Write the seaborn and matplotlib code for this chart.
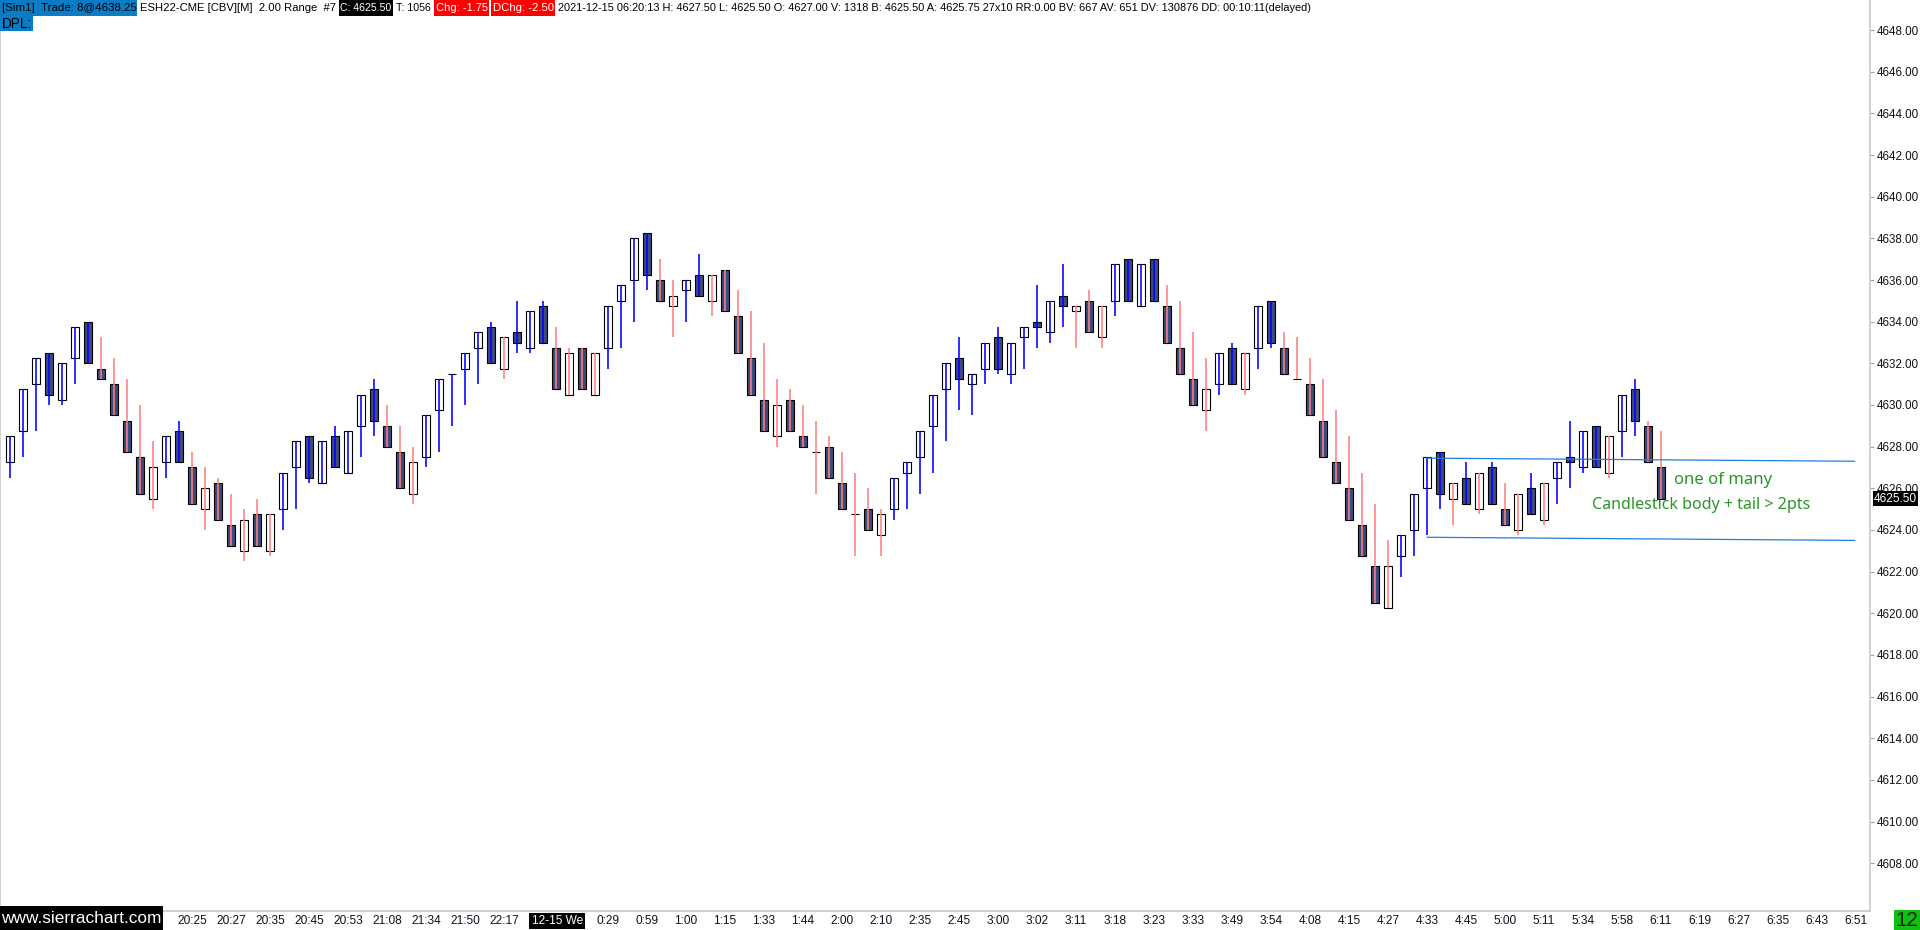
import pandas as pd
import matplotlib
matplotlib.use('Agg')
import matplotlib.pyplot as plt
from matplotlib.patches import Rectangle
import seaborn as sns

sns.set_theme(style='white')
plt.rcParams['font.family'] = ['Liberation Sans', 'DejaVu Sans']

# 2.00 range bars, ESH22
opens = [
    4627.25, 4628.75, 4631.00, 4632.50, 4630.25, 4632.25, 4634.00, 4631.75, 4631.00, 4629.25,
    4627.50, 4625.50, 4627.25, 4628.75, 4627.00, 4625.00, 4626.25, 4624.25, 4623.00, 4624.75,
    4623.00, 4625.00, 4627.00, 4628.50, 4626.25, 4628.50, 4626.75, 4629.00, 4630.75, 4629.00,
    4627.75, 4625.75, 4627.50, 4629.75, 4631.50, 4631.75, 4632.75, 4633.75, 4631.75, 4633.50,
    4632.75, 4634.75, 4632.75, 4630.50, 4632.75, 4630.50, 4632.75, 4635.00, 4636.00, 4638.25,
    4636.00, 4634.75, 4635.50, 4636.25, 4635.00, 4636.50, 4634.25, 4632.25, 4630.25, 4628.50,
    4630.25, 4628.50, 4627.75, 4628.00, 4626.25, 4624.75, 4625.00, 4623.75, 4625.00, 4626.75,
    4627.50, 4629.00, 4630.75, 4632.25, 4631.00, 4631.75, 4633.25, 4631.50, 4633.25, 4634.00,
    4633.50, 4635.25, 4634.50, 4635.00, 4633.25, 4635.00, 4637.00, 4634.75, 4637.00, 4634.75,
    4632.75, 4631.25, 4629.75, 4631.00, 4632.75, 4630.75, 4632.75, 4635.00, 4632.75, 4631.25,
    4631.00, 4629.25, 4627.25, 4626.00, 4624.25, 4622.25, 4620.25, 4622.75, 4624.00, 4626.00,
    4627.75, 4625.50, 4626.50, 4625.00, 4627.00, 4625.00, 4624.00, 4626.00, 4624.50, 4626.50,
    4627.50, 4627.00, 4629.00, 4626.75, 4628.75, 4630.75, 4629.00, 4627.00]
highs = [
    4628.50, 4630.75, 4632.25, 4632.50, 4632.00, 4633.75, 4634.00, 4633.25, 4632.25, 4631.25,
    4630.00, 4628.25, 4628.50, 4629.25, 4627.75, 4627.00, 4626.50, 4625.75, 4625.00, 4625.50,
    4624.75, 4626.75, 4628.25, 4628.50, 4628.25, 4629.00, 4628.75, 4630.50, 4631.25, 4630.00,
    4629.00, 4628.00, 4629.50, 4631.25, 4631.50, 4632.50, 4633.50, 4634.00, 4633.25, 4635.00,
    4634.50, 4635.00, 4633.75, 4632.75, 4632.75, 4632.50, 4634.75, 4635.75, 4638.00, 4638.25,
    4637.00, 4636.00, 4636.00, 4637.25, 4636.25, 4636.50, 4635.50, 4634.50, 4633.00, 4631.25,
    4630.75, 4630.00, 4629.25, 4628.50, 4627.75, 4626.75, 4626.00, 4625.00, 4626.50, 4627.25,
    4628.75, 4630.50, 4632.00, 4633.25, 4631.50, 4633.00, 4633.75, 4633.00, 4633.75, 4635.75,
    4635.00, 4636.75, 4634.75, 4635.50, 4634.75, 4636.75, 4637.00, 4636.75, 4637.00, 4635.75,
    4635.00, 4633.50, 4632.25, 4632.50, 4633.00, 4632.50, 4634.75, 4635.00, 4633.50, 4633.25,
    4632.25, 4631.25, 4629.75, 4628.50, 4626.75, 4625.25, 4623.50, 4623.75, 4625.75, 4627.50,
    4627.75, 4626.25, 4627.25, 4626.75, 4627.25, 4626.25, 4625.75, 4626.75, 4626.25, 4627.25,
    4629.25, 4628.75, 4629.00, 4628.50, 4630.50, 4631.25, 4629.25, 4628.75]
lows = [
    4626.50, 4627.50, 4628.75, 4630.00, 4630.00, 4631.00, 4632.00, 4631.25, 4629.50, 4627.75,
    4625.75, 4625.00, 4626.50, 4627.25, 4625.25, 4624.00, 4624.50, 4623.25, 4622.50, 4623.25,
    4622.75, 4624.00, 4625.00, 4626.25, 4626.25, 4627.00, 4626.75, 4627.50, 4628.50, 4628.00,
    4626.00, 4625.25, 4627.00, 4627.75, 4629.00, 4630.00, 4631.00, 4632.00, 4631.25, 4632.50,
    4632.50, 4633.00, 4630.75, 4630.50, 4630.75, 4630.50, 4631.75, 4632.75, 4634.00, 4635.50,
    4635.00, 4633.25, 4634.00, 4635.25, 4634.25, 4634.50, 4632.50, 4630.50, 4628.75, 4628.00,
    4628.75, 4628.00, 4625.75, 4626.50, 4625.00, 4622.75, 4624.00, 4622.75, 4624.50, 4625.00,
    4625.75, 4626.75, 4628.25, 4629.75, 4629.50, 4631.00, 4631.50, 4631.00, 4631.75, 4632.75,
    4633.00, 4633.75, 4632.75, 4633.50, 4632.75, 4634.25, 4635.00, 4634.75, 4635.00, 4633.00,
    4631.50, 4630.00, 4628.75, 4630.50, 4631.00, 4630.50, 4631.75, 4632.75, 4631.50, 4631.25,
    4629.50, 4627.50, 4626.25, 4624.50, 4622.75, 4620.50, 4620.25, 4621.75, 4622.75, 4623.75,
    4625.00, 4624.25, 4625.25, 4624.75, 4625.25, 4624.25, 4623.75, 4624.75, 4624.25, 4625.25,
    4626.00, 4626.75, 4627.00, 4626.50, 4627.50, 4628.50, 4627.25, 4625.50]
closes = [
    4628.50, 4630.75, 4632.25, 4630.50, 4632.00, 4633.75, 4632.00, 4631.25, 4629.50, 4627.75,
    4625.75, 4627.00, 4628.50, 4627.25, 4625.25, 4626.00, 4624.50, 4623.25, 4624.50, 4623.25,
    4624.75, 4626.75, 4628.25, 4626.50, 4628.25, 4627.00, 4628.75, 4630.50, 4629.25, 4628.00,
    4626.00, 4627.25, 4629.50, 4631.25, 4631.50, 4632.50, 4633.50, 4632.00, 4633.25, 4633.00,
    4634.50, 4633.00, 4630.75, 4632.50, 4630.75, 4632.50, 4634.75, 4635.75, 4638.00, 4636.25,
    4635.00, 4635.25, 4636.00, 4635.25, 4636.25, 4634.50, 4632.50, 4630.50, 4628.75, 4630.00,
    4628.75, 4628.00, 4627.75, 4626.50, 4625.00, 4624.75, 4624.00, 4624.75, 4626.50, 4627.25,
    4628.75, 4630.50, 4632.00, 4631.25, 4631.50, 4633.00, 4631.75, 4633.00, 4633.75, 4633.75,
    4635.00, 4634.75, 4634.75, 4633.50, 4634.75, 4636.75, 4635.00, 4636.75, 4635.00, 4633.00,
    4631.50, 4630.00, 4630.75, 4632.50, 4631.00, 4632.50, 4634.75, 4633.00, 4631.50, 4631.25,
    4629.50, 4627.50, 4626.25, 4624.50, 4622.75, 4620.50, 4622.25, 4623.75, 4625.75, 4627.50,
    4625.75, 4626.25, 4625.25, 4626.75, 4625.25, 4624.25, 4625.75, 4624.75, 4626.25, 4627.25,
    4627.25, 4628.75, 4627.00, 4628.50, 4630.50, 4629.25, 4627.25, 4625.50]
# bar direction (u = up bar / blue tail, d = down bar / red tail)
bar_dir = ('uuuuuuuddd' 'dduudddddd' 'duuuuuuuud' 'dduuuuuudu' 'uudddduuuu'
           'dduudddddd' 'dddddddduu' 'uuuuuuuuuu' 'uuddduuuud' 'ddduuduudd'
           'ddddddduuu' 'udududdudu' 'uuuduudd')

# time axis labels (bar number, text)
time_bars = [15, 18, 21, 24, 27, 30, 33, 36, 39,
             47, 50, 53, 56, 59, 62, 65, 68, 71, 74, 77, 80, 83, 86, 89, 92, 95, 98,
             101, 104, 107, 110, 113, 116, 119, 122, 125, 128,
             131, 134, 137, 140, 143]
time_labels = ['20:25', '20:27', '20:35', '20:45', '20:53', '21:08', '21:34', '21:50', '22:17',
               '0:29', '0:59', '1:00', '1:15', '1:33', '1:44', '2:00', '2:10', '2:35', '2:45',
               '3:00', '3:02', '3:11', '3:18', '3:23', '3:33', '3:49', '3:54',
               '4:08', '4:15', '4:27', '4:33', '4:45', '5:00', '5:11', '5:34', '5:58', '6:11',
               '6:19', '6:27', '6:35', '6:43', '6:51']
day_bar = 43.1
day_label = '12-15 We'

# user drawn range lines (bar number, price)
line_id = ['top', 'top', 'bottom', 'bottom']
line_bar = [110.0, 142.9, 110.0, 142.9]
line_price = [4627.45, 4627.30, 4623.65, 4623.50]

price_ticks = list(range(4608, 4650, 2))
last_price = 4625.50

df = pd.DataFrame({'open': opens, 'high': highs, 'low': lows, 'close': closes,
                   'dir': list(bar_dir)})
df['bar'] = range(1, len(df) + 1)
df['body_lo'] = df[['open', 'close']].min(axis=1)
df['body_h'] = (df['close'] - df['open']).abs()
df['fill'] = ['#3d4a7a' if c < o else 'white' for o, c in zip(df['open'], df['close'])]
df['tail'] = df['dir'].map({'u': '#0000ff', 'd': '#ff8080'})

W, H = 1920, 930
fig = plt.figure(figsize=(W / 100, H / 100), dpi=100)
ax = fig.add_axes([0, 19 / H, 1870 / W, 911 / H])
ax.set_facecolor('white')

ax.bar(df['bar'], df['body_h'], bottom=df['body_lo'], width=0.55,
       color=df['fill'], edgecolor='black', linewidth=0.8, zorder=2)
ax.vlines(df['bar'], df['low'], df['high'], colors=df['tail'], linewidth=1.15, zorder=3)

lines = pd.DataFrame({'line': line_id, 'bar': line_bar, 'price': line_price})
sns.lineplot(data=lines, x='bar', y='price', units='line', estimator=None,
             color='#1e80e8', linewidth=0.9, ax=ax, zorder=4, legend=False)

ax.set_xlim(1 - 10 / 13, 1 + 1860 / 13)
ax.set_ylim(4630 - 506 / 20.83, 4630 + 405 / 20.83)
ax.set_xlabel('')
ax.set_ylabel('')

ax.yaxis.tick_right()
ax.set_yticks(price_ticks)
ax.set_yticklabels([f'{p:.2f}' for p in price_ticks])
ax.tick_params(axis='y', which='both', right=True, length=3, width=0.8, color='#a0a0a0',
               pad=2, labelsize=8.4, labelcolor='#101018')
ax.set_xticks(time_bars)
ax.set_xticklabels(time_labels)
ax.tick_params(axis='x', bottom=True, length=0, pad=3, labelsize=8.6, labelcolor='#101020')

for side in ['left', 'right', 'bottom']:
    ax.spines[side].set_visible(True)
    ax.spines[side].set_color('#c8c8c8')
    ax.spines[side].set_linewidth(1.2)
ax.spines['top'].set_visible(False)

# date marker on time scale
ax.annotate(day_label, xy=(day_bar, 0), xycoords=('data', 'axes fraction'),
            xytext=(0, -10), textcoords='offset pixels', ha='center', va='center',
            fontsize=8.6, color='white', annotation_clip=False,
            bbox=dict(boxstyle='square,pad=0.2', fc='black', ec='none'))

# last price marker
ax.annotate(f'{last_price:.2f}', xy=(1, last_price), xycoords=('axes fraction', 'data'),
            xytext=(4, 0), textcoords='offset pixels', ha='left', va='center',
            fontsize=8.6, color='white', annotation_clip=False, zorder=10,
            bbox=dict(boxstyle='square,pad=0.12', fc='black', ec='none'))

renderer = fig.canvas.get_renderer()


def put(x0, x1, y0, y1, s, fg, bg=None, size=9, family=None, ha='left'):
    # text fitted into a pixel box of the figure, optional background
    if bg is not None:
        fig.add_artist(Rectangle((x0 / W, 1 - y1 / H), (x1 - x0) / W, (y1 - y0) / H,
                                 transform=fig.transFigure, fc=bg, ec='none', zorder=5))
    kw = dict(color=fg, fontsize=size, va='center', ha=ha, zorder=6)
    if family:
        kw['family'] = family
    xt = (x0 + 1.5) if ha == 'left' else (x1 - 1.5)
    t = fig.text(xt / W, 1 - (y0 + y1) / 2 / H, s, **kw)
    w = t.get_window_extent(renderer).width
    t.set_fontsize(size * (x1 - x0 - 3) / w)
    return t


# chart header
put(0, 137, 0.5, 16, '[Sim1]  Trade: 8@4638.25', 'black', '#0a7cc6')
put(139, 338, 0.5, 16, 'ESH22-CME [CBV][M]  2.00 Range  #7', 'black')
put(339, 393, 0.5, 16, 'C: 4625.50', 'white', 'black')
put(394, 432, 0.5, 16, 'T: 1056', 'black')
put(434, 489, 0.5, 16, 'Chg: -1.75', 'white', '#ff0000')
put(491, 555, 0.5, 16, 'DChg: -2.50', 'white', '#ff0000')
put(556, 1314, 0.5, 16, '2021-12-15 06:20:13 H: 4627.50 L: 4625.50 O: 4627.00 V: 1318 '
    'B: 4625.50 A: 4625.75 27x10 RR:0.00 BV: 667 AV: 651 DV: 130876 DD: 00:10:11(delayed)',
    'black')
put(0, 33, 16.5, 31, 'DPL:', 'black', '#0a7cc6')

# annotation
put(1672, 1773, 469, 490, 'one of many', '#2a9628', family=['Noto Sans', 'DejaVu Sans'])
put(1591, 1813, 494, 516, 'Candlestick body + tail > 2pts', '#2a9628',
    family=['Noto Sans', 'DejaVu Sans'])

# footer boxes
put(0, 163, 906, 930, 'www.sierrachart.com', 'white', 'black', size=12)
put(1894, 1920, 910, 930, '12', '#102010', '#10c010', size=9, ha='right')

fig.savefig('out.png', dpi=100, facecolor='white')
